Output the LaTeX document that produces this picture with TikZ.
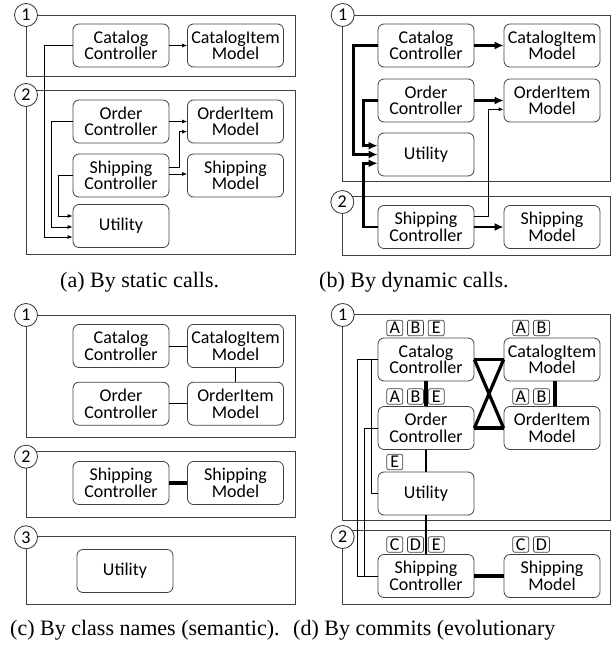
\documentclass[tikz,border=0pt]{standalone}
\usepackage{fontspec}
\setmainfont{Liberation Serif}
\newfontfamily\calibri{Carlito}
\newfontfamily\timesfont{Liberation Serif}
\usepackage{tikz}
\usetikzlibrary{arrows.meta,positioning,calc}
\pgfdeclarelayer{bg}
\pgfsetlayers{bg,main}
\newcommand{\clsfont}{\calibri\fontsize{18}{16.5}\selectfont}
\newcommand{\captfont}{\timesfont\fontsize{22}{24}\selectfont}

\begin{document}
\begin{tikzpicture}[x=1pt,y=-1pt,
    cls/.style={draw=black!75,line width=0.8pt,rounded corners=6pt,minimum width=96pt,minimum height=43pt,inner sep=0pt,align=center,font=\clsfont},
    grp/.style={draw=black!75,line width=0.9pt},
    num/.style={circle,draw=black!80,line width=0.8pt,fill=white,minimum size=23pt,inner sep=0pt,font=\clsfont},
    tg/.style={draw=black!75,line width=0.7pt,rounded corners=2pt,minimum width=16pt,minimum height=15.5pt,inner sep=0pt,font=\clsfont},
    call/.style={-{Latex[length=5pt,width=4pt]},line width=0.8pt},
    dyn/.style={-{Latex[length=9pt,width=8pt]},line width=2.6pt},
    weak/.style={line width=0.8pt},
    mid/.style={line width=1.8pt},
    strong/.style={line width=3.2pt},
    capt/.style={font=\captfont,inner sep=0pt,anchor=base west}]
    \useasboundingbox (0,0) rectangle (611,647);

    % (a) static calls
    \node [cls] (aCatC) at (121,45.5) {Catalog\\Controller};
    \node [cls] (aCatM) at (235.5,45.5) {CatalogItem\\Model};
    \node [cls] (aOrdC) at (121,121.5) {Order\\Controller};
    \node [cls] (aOrdM) at (235.5,121.5) {OrderItem\\Model};
    \node [cls] (aShpC) at (121,175.5) {Shipping\\Controller};
    \node [cls] (aShpM) at (235.5,175.5) {Shipping\\Model};
    \node [cls] (aUtil) at (121,226) {Utility};
    \draw[call] (aCatC) -- (aCatM);
    \draw[call] (aOrdC) -- (aOrdM);
    \draw[call] (aShpC.east |- 0,174) -- (aShpM.west |- 0,174);
    \draw[call] (aShpC.east |- 0,167) -- ++(10,0) |- (aOrdM.west |- 0,131.7);
    \draw[call] (aCatC.west) -- ++(-28,0) |- (aUtil.west |- 0,237);
    \draw[call] (aOrdC.west) -- ++(-21.3,0) |- (aUtil.west |- 0,227);
    \draw[call] (aShpC.west) -- ++(-14,0) |- (aUtil.west |- 0,216);

    % (b) dynamic calls
    \node [cls] (bCatC) at (426,45.5) {Catalog\\Controller};
    \node [cls] (bCatM) at (552,45.5) {CatalogItem\\Model};
    \node [cls] (bOrdC) at (426,100.5) {Order\\Controller};
    \node [cls] (bOrdM) at (552,100.5) {OrderItem\\Model};
    \node [cls] (bUtil) at (426,154.5) {Utility};
    \node [cls] (bShpC) at (426,227) {Shipping\\Controller};
    \node [cls] (bShpM) at (552,227) {Shipping\\Model};
    \draw[dyn] (bCatC) -- (bCatM);
    \draw[dyn] (bOrdC) -- (bOrdM);
    \draw[dyn] (bShpC) -- (bShpM);
    \draw[dyn] (bCatC.west) -- ++(-24,0) |- (bUtil.west);
    \draw[dyn] (bOrdC.west) -- ++(-14,0) |- (bUtil.west |- 0,145.7);
    \draw[dyn] (bShpC.west) -- ++(-14,0) |- (bUtil.west |- 0,163.3);
    \draw[call] (bShpC.east |- 0,216.7) -- ++(13.7,0) |- (bOrdM.west |- 0,109.3);

    % (c) class names
    \node [cls] (cCatC) at (121,346) {Catalog\\Controller};
    \node [cls] (cCatM) at (235.5,346) {CatalogItem\\Model};
    \node [cls] (cOrdC) at (121,403.7) {Order\\Controller};
    \node [cls] (cOrdM) at (235.5,403.7) {OrderItem\\Model};
    \node [cls] (cShpC) at (121,483) {Shipping\\Controller};
    \node [cls] (cShpM) at (235.5,483) {Shipping\\Model};
    \node [cls] (cUtil) at (125,571) {Utility};
    \draw[weak] (cCatC) -- (cCatM);
    \draw[weak] (cCatM) -- (cOrdM);
    \draw[line width=1.4pt] (cOrdC) -- (cOrdM);
    \draw[strong] (cShpC) -- (cShpM);

    % (d) commits
    \node [cls] (dCatC) at (426,359.5) {Catalog\\Controller};
    \node [cls] (dCatM) at (552,359.5) {CatalogItem\\Model};
    \node [cls] (dOrdC) at (426,428) {Order\\Controller};
    \node [cls] (dOrdM) at (552,428) {OrderItem\\Model};
    \node [cls] (dUtil) at (426,493.5) {Utility};
    \node [cls] (dShpC) at (426,576) {Shipping\\Controller};
    \node [cls] (dShpM) at (552,576) {Shipping\\Model};
    \foreach \cl/\tags in {dCatC/{A,B,E},dCatM/{A,B},dOrdC/{A,B,E},dOrdM/{A,B},dUtil/{E},dShpC/{C,D,E},dShpM/{C,D}}
        \foreach \l [count=\i] in \tags
            \node [tg,anchor=south] (\cl\l) at ($(\cl.north)+(-52+20.75*\i,-1.5)$) {\l};
    \draw[strong] (dCatC) -- (dCatM);
    \draw[strong] (dOrdC) -- (dOrdM);
    \draw[strong] (dCatC.east) -- (dOrdM.west);
    \draw[strong] (dOrdC.east) -- (dCatM.west);
    \draw[strong] (dCatC) -- (dOrdC);
    \draw[strong] ([xshift=3pt]dCatM.south) -- ([xshift=3pt]dOrdM.north);
    \draw[mid] (dOrdC) -- (dUtil);
    \draw[mid] (dUtil) -- (dShpC);
    \draw[strong] (dShpC) -- (dShpM);
    \draw[weak] (dCatC.west) -- ++(-6.3,0) |- (dUtil.west);
    \draw[weak] (dCatC.west) -- ++(-20.7,0) |- (dShpC.west);
    \draw[weak] (dOrdC.west) -- ++(-13.7,0) |- (dShpC.west);

    \begin{pgfonlayer}{bg}    % group frames
        \draw[grp] (26,15.7) rectangle (295,76);
        \draw[grp] (26,90.7) rectangle (295,254);
        \draw[grp] (342.7,15.7) rectangle (610,181.7);
        \draw[grp] (342.7,196) rectangle (610,255);
        \draw[grp] (26,315) rectangle (295,437.7);
        \draw[grp] (26,451.7) rectangle (295,517.3);
        \draw[grp] (26,536.7) rectangle (295,604);
        \draw[grp] (342.7,314.5) rectangle (610,520.7);
        \draw[grp] (342.7,530) rectangle (610,604);
    \end{pgfonlayer}
    \node [num] (a1) at (26,15) {1};
    \node [num] (a2) at (26,95) {2};
    \node [num] (b1) at (342.7,15) {1};
    \node [num] (b2) at (342.3,202) {2};
    \node [num] (c1) at (26,315) {1};
    \node [num] (c2) at (26,456.7) {2};
    \node [num] (c3) at (26,537.3) {3};
    \node [num] (d1) at (342.7,315) {1};
    \node [num] (d2) at (342.7,537) {2};

    \node [capt] (capA) at (60,287) {(a) By static calls.};
    \node [capt] (capB) at (319,287) {(b) By dynamic calls.};
    \node [capt] (capC) at (10,635) {(c) By class names (semantic).};
    \node [capt] (capD) at (293,635) {(d) By commits (evolutionary};
\end{tikzpicture}
\end{document}
